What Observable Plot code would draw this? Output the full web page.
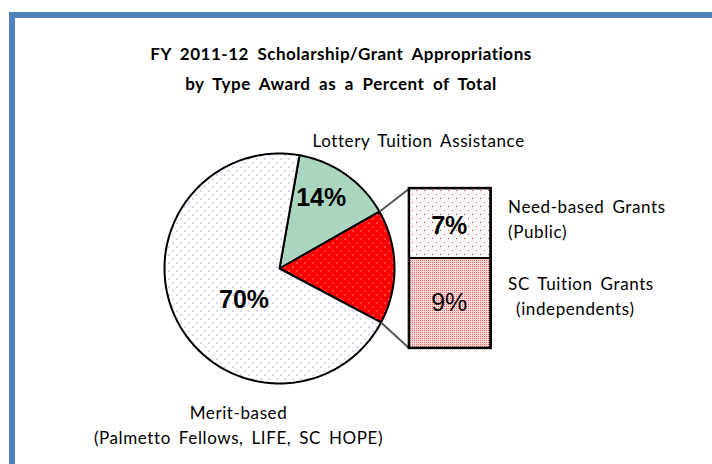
<!DOCTYPE html>
<html><head><meta charset="utf-8">
<script src="https://cdn.jsdelivr.net/npm/d3@7"></script>
<script src="https://cdn.jsdelivr.net/npm/@observablehq/plot@0.6"></script>
<style>
body{margin:0;background:#fff;}
#wrap{position:relative;width:712px;height:464px;overflow:hidden;background:#fff;}
#frame{position:absolute;left:9px;top:12px;width:800px;height:600px;border-top:6px solid #4f81bd;border-left:6px solid #4f81bd;}
#title{position:absolute;left:0;top:39px;width:682px;text-align:center;font-family:Lato;font-weight:bold;font-size:17px;line-height:30px;color:#000;white-space:pre;letter-spacing:0.5px;word-spacing:4px;}
#chart{position:absolute;left:0;top:110px;}
#chart text{letter-spacing:0.6px;}
</style></head>
<body><div id="wrap"><div id="frame"></div><div id="title">FY 2011-12 Scholarship/Grant Appropriations
by Type Award as a Percent of Total</div><div id="chart"></div></div>
<script>
// ---- data ----
const pieCategories = ["Lottery Tuition Assistance", "Need-based and SC Tuition Grants", "Merit-based"];
const pieShares = [14, 16, 70];
const pieValueLabels = ["14%", "", "70%"];
const pieCaptions = ["Lottery Tuition Assistance", "", "Merit-based\n(Palmetto Fellows, LIFE, SC HOPE)"];
const boxCategories = ["Need-based Grants", "SC Tuition Grants"];
const boxShares = [7, 9];
const boxValueLabels = ["7%", "9%"];
const boxCaptions = ["Need-based Grants\n(Public)", "SC Tuition Grants\n\u00a0(independents)"];

// ---- layout ----
const W = 712, H = 354, CX = 279, CY = 158, R = 115;
const START = 10;               // degrees clockwise from north
const BX1 = 1.13, BX2 = 1.84, BOX_H = 1.39;
const piePatterns = ["url(#pLottery)", "url(#pRed)", "url(#pMerit)"];
const boxPatterns = ["url(#pNeed)", "url(#pSC)"];

const rad = a => a * Math.PI / 180;
const pt = (a, r = 1) => ({x: r * Math.sin(rad(a)), y: r * Math.cos(rad(a))});

const total = d3.sum(pieShares);
let acc = 0;
const slices = pieShares.map((v, i) => {
  const a0 = START + acc / total * 360; acc += v;
  const a1 = START + acc / total * 360;
  return {i, name: pieCategories[i], value: v, a0, a1, mid: (a0 + a1) / 2};
});
const polys = slices.map(s => {
  const pts = [{x: 0, y: 0}];
  const n = Math.max(2, Math.ceil((s.a1 - s.a0)));
  for (let k = 0; k <= n; k++) pts.push(pt(s.a0 + (s.a1 - s.a0) * k / n));
  return pts;
});

const boxTotal = d3.sum(boxShares);
let bacc = 0;
const boxes = boxShares.map((v, i) => {
  const y1 = BOX_H / 2 - bacc / boxTotal * BOX_H; bacc += v;
  const y2 = BOX_H / 2 - bacc / boxTotal * BOX_H;
  return {i, name: boxCategories[i], value: v, y1, y2, mid: (y1 + y2) / 2, label: boxValueLabels[i], caption: boxCaptions[i]};
});

const red = slices[1];
const links = [
  {...pt(red.a0), x2: BX1, y2: BOX_H / 2},
  {...pt(red.a1), x2: BX1, y2: -BOX_H / 2}
];

const labelR = [0.72, 0, 0.45];
const labelNudge = [[-6, -3], [0, 0], [11, 9]];
const pieVals = slices.filter(s => pieValueLabels[s.i]).map(s => ({...pt(s.mid, labelR[s.i]), text: pieValueLabels[s.i], dx: labelNudge[s.i][0], dy: labelNudge[s.i][1]}));

const boxLabelStyle = [{fontWeight: "bold", dy: 2}, {fontWeight: "normal", dy: 0}];
const boxCaptionDy = [-6, -9];

const lotteryCap = {...pt(slices[0].a0), text: pieCaptions[0]};
const meritCap = {...pt(180), text: pieCaptions[2]};

const txt = {fontFamily: "Lato", fontSize: 17, fill: "black"};
const pctFont = {fontFamily: "Liberation Sans", fontWeight: "bold", fontSize: 25, fill: "black"};

const chart = Plot.plot({
  width: W, height: H, margin: 0,
  x: {domain: [-CX / R, (W - CX) / R], axis: null},
  y: {domain: [-(H - CY) / R, CY / R], axis: null},
  marks: [
    ...polys.map((p, i) => Plot.line(p, {x: "x", y: "y", curve: "linear-closed", fill: piePatterns[i], stroke: "black", strokeWidth: 2, strokeLinejoin: "round"})),
    Plot.link(links, {x1: "x", y1: "y", x2: "x2", y2: "y2", stroke: "#555", strokeWidth: 2}),
    ...boxes.map((b, i) => Plot.rect([b], {x1: BX1, x2: BX2, y1: "y1", y2: "y2", fill: boxPatterns[i], stroke: "black", strokeWidth: 2})),
    Plot.rect([{y1: BOX_H / 2, y2: -BOX_H / 2}], {x1: BX1, x2: BX2, y1: "y1", y2: "y2", fill: "none", stroke: "black", strokeWidth: 2.5}),
    ...pieVals.map(d => Plot.text([d], {x: "x", y: "y", text: "text", dx: d.dx, dy: d.dy, ...pctFont, style: "letter-spacing:0"})),
    ...boxes.map((b, i) => Plot.text([b], {x: (BX1 + BX2) / 2, y: "mid", text: "label", dx: -1, ...pctFont, ...boxLabelStyle[i]})),
    ...boxes.map((b, i) => Plot.text([b], {x: BX2, y: "mid", text: "caption", dx: 17, dy: boxCaptionDy[i], textAnchor: "start", lineAnchor: "middle", lineHeight: 1.5, ...txt})),
    Plot.text([lotteryCap], {x: "x", y: "y", text: "text", dx: 13, dy: -14, textAnchor: "start", ...txt}),
    Plot.text([meritCap], {x: "x", y: "y", text: "text", dx: -41, dy: 40, lineAnchor: "middle", lineHeight: 1.5, ...txt})
  ]
});

// patterns
const defs = d3.select(chart).insert("defs", ":first-child");
function dotPattern(id, size, bg, dots, color) {
  const p = defs.append("pattern").attr("id", id).attr("patternUnits", "userSpaceOnUse").attr("width", size).attr("height", size);
  p.append("rect").attr("width", size).attr("height", size).attr("fill", bg);
  dots.forEach(([x, y]) => p.append("rect").attr("x", x).attr("y", y).attr("width", 1).attr("height", 1).attr("fill", color));
}
dotPattern("pMerit", 8, "white", [[0, 0], [4, 4]], "#6464c8");
dotPattern("pRed", 8, "#ff0000", [[0, 0], [4, 4]], "white");
dotPattern("pNeed", 8, "white", [[0, 0], [4, 4]], "#ff2020");
dotPattern("pLottery", 2, "#cfe8db", [[0, 0]], "#3c9a6c");
dotPattern("pSC", 2, "#ffdcdc", [[0, 0]], "#f06060");

// word spacing on captions (Calibri-like looseness)
d3.select(chart).selectAll("text").filter(function() { return this.textContent.match(/[a-z]/); }).style("word-spacing", "3px");
d3.select(chart).selectAll("text").filter(function() { return /%/.test(this.textContent); }).style("letter-spacing", "0px");

document.getElementById("chart").append(chart);
</script>
</body></html>
